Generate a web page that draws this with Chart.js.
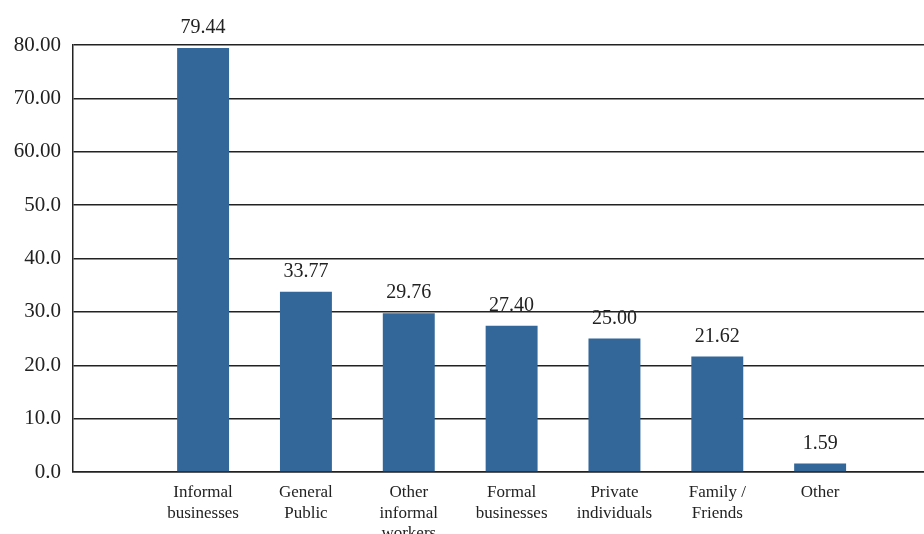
<!DOCTYPE html>
<html>
<head>
<meta charset="utf-8">
<script src="https://cdn.jsdelivr.net/npm/chart.js@4"></script>
<style>
    html, body { margin: 0; padding: 0; background: #ffffff; }
    #wrap { width: 924px; height: 534px; position: relative; }
</style>
</head>
<body>
<div id="wrap"><canvas id="chart"></canvas></div>
<script>
const categories = [
    ["Informal", "businesses"],
    ["General", "Public"],
    ["Other", "informal", "workers"],
    ["Formal", "businesses"],
    ["Private", "individuals"],
    ["Family /", "Friends"],
    ["Other"],
];
const values = [79.44, 33.77, 29.76, 27.40, 25.00, 21.62, 1.59];
const yTicks = [0, 10, 20, 30, 40, 50, 60, 70, 80];

const FONT = "'Liberation Serif', 'DejaVu Serif', serif";
const BAR_COLOR = "#336699";
const INK = "#222222";

// bars sit at positions 1..7 on a linear axis so the plot can keep
// the wide empty margin on the left like the original
const points = values.map((v, i) => ({ x: i + 1, y: v }));

const valueLabels = {
    id: "valueLabels",
    afterDatasetsDraw(chart) {
        const ctx = chart.ctx;
        const meta = chart.getDatasetMeta(0);
        ctx.save();
        ctx.font = `20px ${FONT}`;
        ctx.fillStyle = INK;
        ctx.textAlign = "center";
        ctx.textBaseline = "alphabetic";
        meta.data.forEach((bar, i) => {
            ctx.fillText(values[i].toFixed(2), bar.x, bar.y - 15);
        });
        ctx.restore();
    },
};

new Chart(document.getElementById("chart").getContext("2d"), {
    type: "bar",
    data: {
        datasets: [
            {
                data: points,
                backgroundColor: BAR_COLOR,
                borderWidth: 0,
                barPercentage: 0.505,
                categoryPercentage: 1,
            },
        ],
    },
    options: {
        responsive: true,
        maintainAspectRatio: false,
        animation: false,
        layout: { padding: { top: 45, right: 0, left: 0, bottom: 0 } },
        plugins: {
            legend: { display: false },
            tooltip: { enabled: false },
        },
        scales: {
            x: {
                type: "linear",
                offset: false,
                min: -0.265,
                max: 8.01,
                grid: { display: false, offset: false },
                border: { display: true, color: INK, width: 1.5 },
                afterFit: (scale) => {
                    scale.height = 62;
                    scale.paddingLeft = 0;
                    scale.paddingRight = 0;
                },
                ticks: {
                    stepSize: 1,
                    autoSkip: false,
                    maxRotation: 0,
                    padding: 3,
                    color: INK,
                    font: { family: FONT, size: 17, lineHeight: 1.18 },
                    callback: (v) => (Number.isInteger(v) && categories[v - 1]) || "",
                },
            },
            y: {
                min: 0,
                max: 80,
                afterFit: (scale) => { scale.width = 73; },
                afterBuildTicks: (scale) => {
                    scale.ticks = yTicks.map((v) => ({ value: v }));
                },
                grid: { color: INK, lineWidth: 1.5, drawTicks: false },
                border: { display: true, color: INK, width: 1.5 },
                ticks: {
                    padding: 12,
                    color: INK,
                    font: { family: FONT, size: 21 },
                    callback: (v) => (v >= 60 ? v.toFixed(2) : v.toFixed(1)),
                },
            },
        },
    },
    plugins: [valueLabels],
});
</script>
</body>
</html>
